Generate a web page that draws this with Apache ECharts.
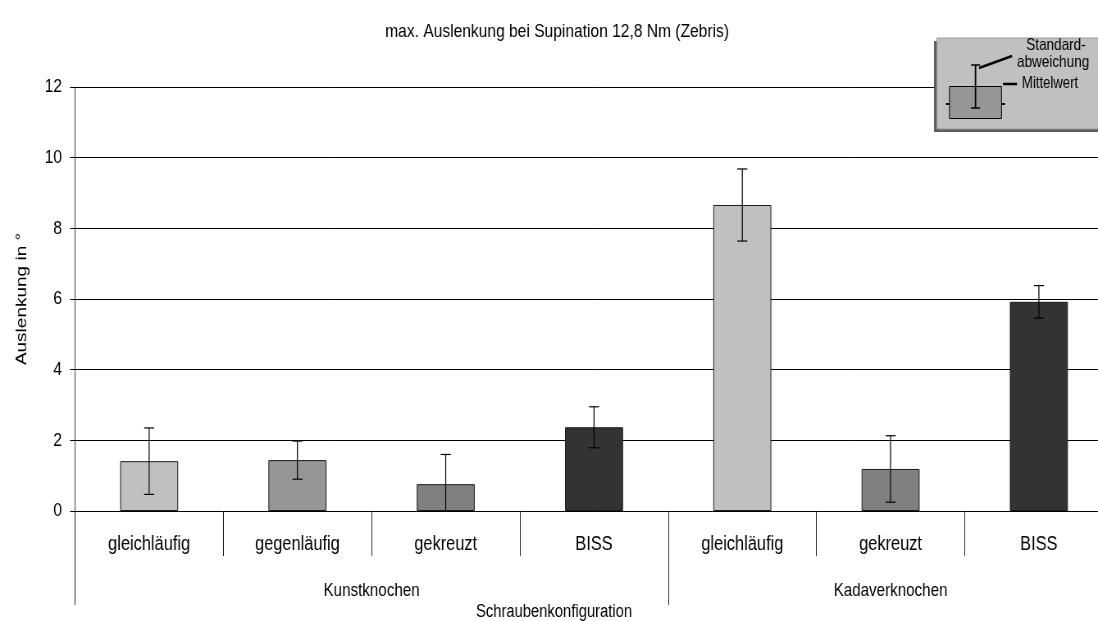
<!DOCTYPE html>
<html>
<head>
<meta charset="utf-8">
<script src="https://cdn.jsdelivr.net/npm/echarts@6/dist/echarts.min.js"></script>
<style>
  html, body { margin: 0; padding: 0; background: #fff; overflow: hidden; }
  /* drawn in a wider frame and squeezed horizontally, which gives the tall,
     narrow lettering of the original figure; the plot runs past the right edge */
  #chart { width: 1420px; height: 621px; transform: scaleX(0.82); transform-origin: 0 0; }
</style>
</head>
<body>
<div id="chart"></div>
<script>
// Screw configurations (x categories), grouped by bone type
const categories = ['gleichläufig', 'gegenläufig', 'gekreuzt', 'BISS', 'gleichläufig', 'gekreuzt', 'BISS'];
const groups = ['Kunstknochen', 'Kadaverknochen'];
const groupSizes = [4, 3];

// Mean deflection (°) and standard deviation per configuration
const means = [1.41, 1.44, 0.76, 2.37, 8.66, 1.19, 5.92];
const sds = [0.94, 0.54, 0.84, 0.58, 1.02, 0.94, 0.46];

const yTicks = { min: 0, max: 12, interval: 2 };

const fillByConfig = {
  'gleichläufig': '#c0c0c0',
  'gegenläufig': '#969696',
  'gekreuzt': '#808080',
  'BISS': '#333333'
};

const FONT = '"Liberation Sans", Arial, sans-serif';
const SX = 0.82;              // horizontal squeeze applied to the canvas
const px = v => v / SX;       // screen x distance -> drawing units

// group boundaries and centres in category units
const groupBounds = [0];
groupSizes.forEach((n, i) => groupBounds.push(groupBounds[i] + n));
const groupCenters = groupSizes.map((n, i) => groupBounds[i] + n / 2);

const chart = echarts.init(document.getElementById('chart'), null, { renderer: 'canvas' });

// explanatory key: shadowed box with a sample bar, its error bar and captions
const keyGraphics = [
  { type: 'rect', shape: { x: px(934), y: 41, width: px(200), height: 91 }, style: { fill: '#5e5e5e' }, z: 10 },
  { type: 'rect', shape: { x: px(937), y: 38, width: px(200), height: 91 }, style: { fill: '#c0c0c0', stroke: '#9a9a9a', lineWidth: 1 }, z: 11 },
  { type: 'rect', shape: { x: px(949.5), y: 86.5, width: px(52), height: 32 }, style: { fill: '#969696', stroke: '#000', lineWidth: 1 }, z: 12 },
  { type: 'line', shape: { x1: px(946), y1: 104, x2: px(949), y2: 104 }, style: { stroke: '#000', lineWidth: 2 }, z: 12 },
  { type: 'line', shape: { x1: px(1002), y1: 104, x2: px(1005), y2: 104 }, style: { stroke: '#000', lineWidth: 2 }, z: 12 },
  { type: 'line', shape: { x1: px(975.5), y1: 65, x2: px(975.5), y2: 108 }, style: { stroke: '#000', lineWidth: 1.8 }, z: 13 },
  { type: 'line', shape: { x1: px(971), y1: 65, x2: px(980), y2: 65 }, style: { stroke: '#000', lineWidth: 1.5 }, z: 13 },
  { type: 'line', shape: { x1: px(971), y1: 108, x2: px(980), y2: 108 }, style: { stroke: '#000', lineWidth: 1.5 }, z: 13 },
  { type: 'line', shape: { x1: px(979), y1: 68, x2: px(1012), y2: 56 }, style: { stroke: '#000', lineWidth: 2.5 }, z: 13 },
  { type: 'line', shape: { x1: px(1003), y1: 84, x2: px(1017), y2: 84 }, style: { stroke: '#000', lineWidth: 2.5 }, z: 13 },
  {
    type: 'text', x: px(1056), y: 37, z: 13,
    style: { text: 'Standard-', fontFamily: FONT, fontSize: 16.5, fill: '#000', align: 'center', textAlign: 'center' }
  },
  {
    type: 'text', x: px(1017), y: 54, z: 13,
    style: { text: 'abweichung', fontFamily: FONT, fontSize: 16.5, fill: '#000' }
  },
  {
    type: 'text', x: px(1022), y: 76, z: 13,
    style: { text: 'Mittelwert', fontFamily: FONT, fontSize: 16, fill: '#000' }
  }
];

chart.setOption({
  animation: false,
  backgroundColor: '#ffffff',
  title: {
    text: 'max. Auslenkung bei Supination 12,8 Nm (Zebris)',
    left: px(553), top: 17, textAlign: 'center',
    textStyle: { fontFamily: FONT, fontSize: 19, fontWeight: 'normal', color: '#000' }
  },
  grid: { left: px(75), top: 87, width: px(1038), height: 424, containLabel: false },
  xAxis: [
    {
      type: 'category',
      data: categories,
      axisLine: { lineStyle: { color: '#000', width: 1 } },
      axisTick: { show: true, length: 45, lineStyle: { color: '#222', width: 1 } },
      axisLabel: { margin: 23, fontFamily: FONT, fontSize: 20, color: '#000' },
      splitLine: { show: false }
    },
    {
      type: 'value',
      position: 'bottom',
      min: 0, max: categories.length,
      axisLine: { show: false },
      axisTick: { show: true, length: 94, customValues: groupBounds, lineStyle: { color: '#222', width: 1 } },
      axisLabel: {
        show: true, margin: 70, customValues: groupCenters,
        fontFamily: FONT, fontSize: 18.5, color: '#000',
        formatter: v => groups[groupCenters.indexOf(v)] || ''
      },
      splitLine: { show: false }
    }
  ],
  yAxis: {
    type: 'value',
    min: yTicks.min, max: yTicks.max, interval: yTicks.interval,
    name: 'Auslenkung in °',
    nameLocation: 'middle', nameGap: 55, nameRotate: 90,
    nameTextStyle: { fontFamily: FONT, fontSize: 19, color: '#000' },
    axisLine: { show: true, lineStyle: { color: '#333', width: 1 } },
    axisTick: { show: true, length: px(5), lineStyle: { color: '#000' } },
    axisLabel: { margin: px(13), fontFamily: FONT, fontSize: 19, color: '#000' },
    splitLine: { show: true, lineStyle: { color: '#000', width: 1 } }
  },
  graphic: [
    {
      type: 'text', x: px(554), y: 603,
      style: { text: 'Schraubenkonfiguration', fontFamily: FONT, fontSize: 18, fill: '#000', align: 'center', textAlign: 'center' }
    }
  ].concat(keyGraphics),
  series: [
    {
      type: 'bar',
      xAxisIndex: 0,
      barWidth: px(58),
      data: means.map((v, i) => ({
        value: v,
        itemStyle: { color: fillByConfig[categories[i]], borderColor: '#1a1a1a', borderWidth: 1 }
      })),
      z: 2
    },
    {
      // standard deviation whiskers
      type: 'custom',
      xAxisIndex: 0,
      clip: true,
      data: means.map((m, i) => [i, m - sds[i], m + sds[i]]),
      renderItem: (params, api) => {
        const x = api.value(0);
        const lo = api.coord([x, api.value(1)]);
        const hi = api.coord([x, api.value(2)]);
        const cx = lo[0];
        const cap = px(5);
        const ls = { stroke: '#000', lineWidth: 1.2 };
        return {
          type: 'group',
          children: [
            { type: 'line', shape: { x1: cx, y1: hi[1], x2: cx, y2: lo[1] }, style: ls },
            { type: 'line', shape: { x1: cx - cap, y1: hi[1], x2: cx + cap, y2: hi[1] }, style: ls },
            { type: 'line', shape: { x1: cx - cap, y1: lo[1], x2: cx + cap, y2: lo[1] }, style: ls }
          ]
        };
      },
      z: 3
    }
  ]
});
</script>
</body>
</html>
